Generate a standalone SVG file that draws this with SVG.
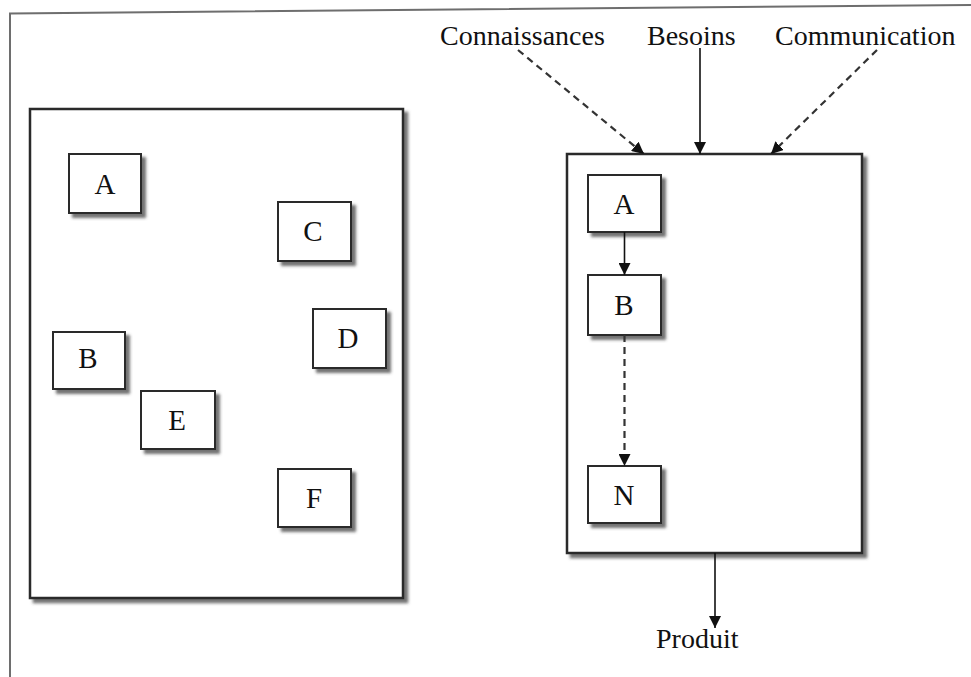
<svg xmlns="http://www.w3.org/2000/svg" width="971" height="677" viewBox="0 0 971 677">
  <style>
    .frame { fill: none; stroke: #6e6e6e; stroke-width: 2; }
    .panel { fill: #fff; stroke: #2b2b2b; stroke-width: 2.5; filter: url(#shadow); }
    .box { fill: #fff; stroke: #2b2b2b; stroke-width: 2; filter: url(#shadow); }
    .lbl { font-family: "Liberation Serif", "Times New Roman", serif; font-size: 28px; fill: #111; }
    .ch { font-family: "Liberation Serif", "Times New Roman", serif; font-size: 29px; fill: #111; text-anchor: middle; }
    .solid { fill: none; stroke: #111; stroke-width: 1.6; marker-end: url(#arrow); }
    .dash { fill: none; stroke: #333; stroke-width: 2.2; stroke-dasharray: 7 5; marker-end: url(#arrow); }
  </style>
  <defs>
    <filter id="shadow" x="-10%" y="-10%" width="125%" height="125%">
      <feDropShadow dx="4" dy="4" stdDeviation="1.6" flood-color="#444" flood-opacity="0.75"/>
    </filter>
    <marker id="arrow" viewBox="0 0 12 12" refX="12" refY="6" markerWidth="12" markerHeight="12" markerUnits="userSpaceOnUse" orient="auto">
      <path d="M0,0 L12,6 L0,12 Z" fill="#111"/>
    </marker>
  </defs>

  <rect width="971" height="677" fill="#fff"/>

  <!-- outer page frame -->
  <g id="frame">
    <path class="frame" d="M10,677 L10,13.5 L971,5"/>
  </g>

  <!-- left panel: loose activities -->
  <g id="panel-left">
    <rect class="panel" x="30" y="109" width="373" height="489"/>
  </g>
  <g id="left-A"><rect class="box" x="69" y="154" width="72" height="59"/><text class="ch" x="105" y="193.5">A</text></g>
  <g id="left-C"><rect class="box" x="278" y="202" width="73" height="59"/><text class="ch" x="313" y="241">C</text></g>
  <g id="left-D"><rect class="box" x="313" y="309" width="73" height="59"/><text class="ch" x="348" y="348">D</text></g>
  <g id="left-B"><rect class="box" x="53" y="332" width="72" height="57"/><text class="ch" x="88" y="368">B</text></g>
  <g id="left-E"><rect class="box" x="141" y="391" width="74" height="58"/><text class="ch" x="177" y="430">E</text></g>
  <g id="left-F"><rect class="box" x="278" y="469" width="73" height="58"/><text class="ch" x="314" y="508">F</text></g>

  <!-- right panel: ordered process -->
  <g id="panel-right">
    <rect class="panel" x="567" y="154" width="295" height="399"/>
  </g>
  <g id="right-A"><rect class="box" x="588" y="175" width="73" height="57"/><text class="ch" x="624" y="214">A</text></g>
  <g id="right-B"><rect class="box" x="588" y="275" width="73" height="60"/><text class="ch" x="624" y="315">B</text></g>
  <g id="right-N"><rect class="box" x="588" y="466" width="73" height="57"/><text class="ch" x="624" y="505">N</text></g>

  <!-- inputs and output labels -->
  <g id="in-connaissances"><text class="lbl" x="440" y="45">Connaissances</text></g>
  <g id="in-besoins"><text class="lbl" x="647" y="45">Besoins</text></g>
  <g id="in-communication"><text class="lbl" x="775" y="45">Communication</text></g>
  <g id="out-produit"><text class="lbl" x="656" y="648">Produit</text></g>

  <!-- connectors -->
  <g id="connectors">
    <path class="dash" d="M518,50 L644,154"/>
    <path class="solid" d="M700,48 L700,154"/>
    <path class="dash" d="M877,50 L771,154"/>
    <path class="solid" d="M624.5,232 L624.5,275"/>
    <path class="dash" d="M624.5,335 L624.5,466"/>
    <path class="solid" d="M715,553 L715,628"/>
  </g>
</svg>
